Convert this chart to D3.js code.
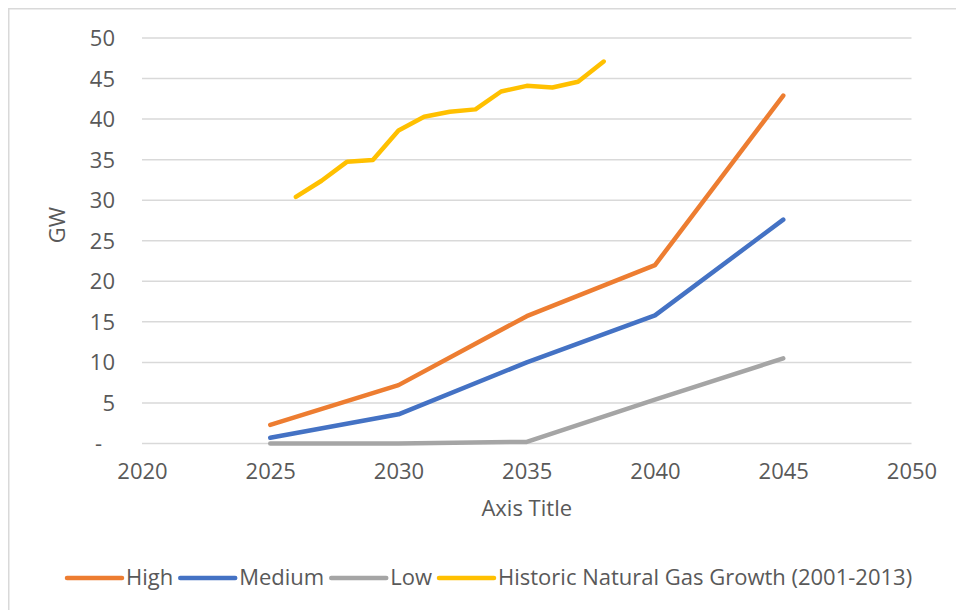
<!DOCTYPE html>
<html>
<head>
<meta charset="utf-8">
<script src="https://cdn.jsdelivr.net/npm/d3@7"></script>
<style>
  html, body { margin: 0; padding: 0; background: #fff; }
  svg { display: block; }
  text { font-family: "Open Sans", "DejaVu Sans", sans-serif; fill: #595959; }
</style>
</head>
<body>
<svg id="chart" width="956" height="610"></svg>
<script>
// Capacity scenarios (GW) at five-year steps
const scenarioYears = [2025, 2030, 2035, 2040, 2045];
const highValues   = [2.3, 7.2, 15.7, 22.0, 42.9];
const mediumValues = [0.7, 3.6, 10.0, 15.8, 27.6];
const lowValues    = [0.0, 0.0, 0.2, 5.4, 10.5];

// Historic natural gas build-out (2001-2013), laid over 2026-2038
const historicYears  = [2026, 2027, 2028, 2029, 2030, 2031, 2032, 2033, 2034, 2035, 2036, 2037, 2038];
const historicValues = [30.4, 32.4, 34.75, 34.95, 38.6, 40.3, 40.9, 41.2, 43.4, 44.1, 43.9, 44.6, 47.1];

const xTicks = [2020, 2025, 2030, 2035, 2040, 2045, 2050];
const yTicks = [0, 5, 10, 15, 20, 25, 30, 35, 40, 45, 50];

const seriesNames  = ["High", "Medium", "Low", "Historic Natural Gas Growth (2001-2013)"];
const seriesColors = ["#ED7D31", "#4472C4", "#A5A5A5", "#FFC000"];

const series = [
  { name: seriesNames[0], color: seriesColors[0], xs: scenarioYears, ys: highValues },
  { name: seriesNames[1], color: seriesColors[1], xs: scenarioYears, ys: mediumValues },
  { name: seriesNames[2], color: seriesColors[2], xs: scenarioYears, ys: lowValues },
  { name: seriesNames[3], color: seriesColors[3], xs: historicYears, ys: historicValues }
];

const FONT_SIZE = 22;
const svg = d3.select("#chart");

// chart-area frame
svg.append("path")
  .attr("d", "M8.75,612 V8.75 H960")
  .attr("fill", "none")
  .attr("stroke", "#d9d9d9")
  .attr("stroke-width", 1.5);

const plot = { left: 142, right: 911.5, top: 38, bottom: 443.5 };

const x = d3.scaleLinear().domain([2020, 2050]).range([plot.left, plot.right]);
const y = d3.scaleLinear().domain([0, 50]).range([plot.bottom, plot.top]);

// horizontal gridlines
svg.append("g")
  .selectAll("line")
  .data(yTicks)
  .join("line")
  .attr("x1", plot.left).attr("x2", plot.right)
  .attr("y1", d => y(d)).attr("y2", d => y(d))
  .attr("stroke", "#d9d9d9")
  .attr("stroke-width", 1.5);

// y axis labels (zero shown as a dash, accounting style)
const yAxis = d3.axisLeft(y)
  .tickValues(yTicks)
  .tickFormat(d => d === 0 ? "-" : d3.format("d")(d))
  .tickSize(0)
  .tickPadding(0);
const gy = svg.append("g")
  .attr("transform", `translate(${plot.left - 27},0)`)
  .call(yAxis);
gy.select(".domain").remove();
gy.selectAll("text")
  .attr("font-size", FONT_SIZE)
  .attr("font-family", null)
  .attr("dy", "0.34em")
  .attr("dx", d => d === 0 ? -13 : 0);

// x axis labels
const xAxis = d3.axisBottom(x)
  .tickValues(xTicks)
  .tickFormat(d3.format("d"))
  .tickSize(0)
  .tickPadding(0);
const gx = svg.append("g")
  .attr("transform", `translate(0,${plot.bottom})`)
  .call(xAxis);
gx.select(".domain").remove();
gx.selectAll("text")
  .attr("font-size", FONT_SIZE)
  .attr("font-family", null)
  .attr("y", 28)
  .attr("dy", "0.34em");

// axis titles
svg.append("text")
  .attr("x", (plot.left + plot.right) / 2)
  .attr("y", 509)
  .attr("dy", "0.34em")
  .attr("text-anchor", "middle")
  .attr("font-size", FONT_SIZE)
  .text("Axis Title");

svg.append("text")
  .attr("transform", "translate(58,225) rotate(-90)")
  .attr("dy", "0.34em")
  .attr("text-anchor", "middle")
  .attr("font-size", FONT_SIZE)
  .text("GW");

// series lines
const line = d3.line()
  .x(d => x(d[0]))
  .y(d => y(d[1]));

svg.append("g")
  .selectAll("path")
  .data(series)
  .join("path")
  .attr("d", s => line(s.xs.map((v, i) => [v, s.ys[i]])))
  .attr("fill", "none")
  .attr("stroke", s => s.color)
  .attr("stroke-width", 4.5)
  .attr("stroke-linecap", "round")
  .attr("stroke-linejoin", "round");

// legend
const legend = svg.append("g").attr("transform", "translate(0,578)");
let cursor = 67;
series.forEach(s => {
  const item = legend.append("g");
  item.append("line")
    .attr("x1", cursor).attr("x2", cursor + 55)
    .attr("y1", 0).attr("y2", 0)
    .attr("stroke", s.color)
    .attr("stroke-width", 4.5)
    .attr("stroke-linecap", "round");
  const t = item.append("text")
    .attr("x", cursor + 59)
    .attr("dy", "0.34em")
    .attr("font-size", FONT_SIZE)
    .text(s.name);
  cursor += 59 + t.node().getComputedTextLength() + 7;
});
</script>
</body>
</html>
